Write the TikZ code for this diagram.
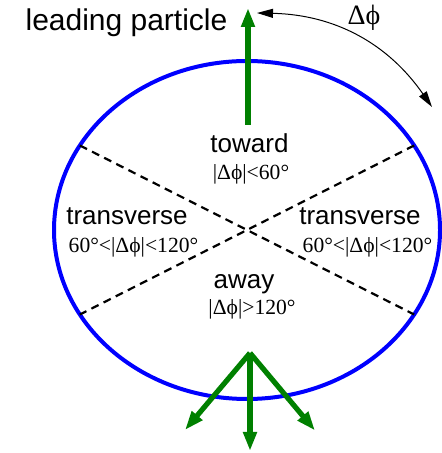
\documentclass[tikz,border=0pt]{standalone}
\usepackage{fontspec}
\setmainfont{Liberation Serif}
\newfontfamily\arialfont{Liberation Sans}
\usetikzlibrary{arrows.meta, calc}

\begin{document}
\begin{tikzpicture}[
                    x=0.5pt, y=0.5pt,
                    detector/.style={draw=blue, line width=2pt},
                    divider/.style={draw, dash pattern=on 4pt off 2.8pt, line width=1.1pt},
                    track/.style={draw=green!50!black, line width=2.6pt, -{Triangle[length=9.5pt, width=6.5pt, fill=green!50!black]}},
                    swing/.style={draw, line width=0.5pt, {Triangle[length=8pt, width=4.5pt]}-{Triangle[length=8pt, width=4.5pt]}},
                    sector/.style={anchor=base, inner sep=0pt, font=\arialfont\fontsize{13}{15}\selectfont},
                    spanlbl/.style={anchor=base, inner sep=0pt, font=\fontsize{10.8}{13}\selectfont}
                ]
                    \useasboundingbox (0,0) rectangle (442,453);
                    \coordinate (c) at (247,223);
                    
                    % detector and sector borders
                    \draw [detector] (c) ellipse [x radius=96.5pt, y radius=84.5pt];
                    \coordinate (ne) at ($(c)+(30:96.5pt and 84.5pt)$);
                    \coordinate (nw) at ($(c)+(150:96.5pt and 84.5pt)$);
                    \coordinate (sw) at ($(c)+(210:96.5pt and 84.5pt)$);
                    \coordinate (se) at ($(c)+(330:96.5pt and 84.5pt)$);
                    \path [divider] (nw) -- (se);
                    \path [divider] (ne) -- (sw);
                    
                    % leading particle
                    \coordinate (lead) at (248,328);
                    \coordinate (leadtip) at (248,445);
                    \path [track] (lead) -- (leadtip);
                    \node [anchor=base, inner sep=0pt, font=\arialfont\fontsize{15}{18}\selectfont] (leadlbl) at (126.5,422) {leading particle};
                    
                    % away side tracks
                    \coordinate (away) at (250,100);
                    \coordinate (awayl) at (185,23);
                    \coordinate (awayc) at (250,2);
                    \coordinate (awayr) at (315,22.5);
                    \path [track] (away) -- (awayl);
                    \path [track] (away) -- (awayc);
                    \path [track] (away) -- (awayr);
                    
                    % angle
                    \coordinate (phia) at (257,440);
                    \coordinate (phib) at (432,346);
                    \path [swing] (phia) to [bend left=27] (phib);
                    \node [anchor=base, inner sep=0pt, font=\fontsize{14}{16}\selectfont] (phi) at (364,428) {Δϕ};
                    
                    % regions
                    \node [sector] (toward) at (249.5,300.7) {toward};
                    \node [spanlbl] (towardrng) at (251,273) {|Δϕ|<60°};
                    \node [sector] (transl) at (127,228) {transverse};
                    \node [spanlbl] (translrng) at (133.5,200.3) {60°<|Δϕ|<120°};
                    \node [sector] (transr) at (360,228) {transverse};
                    \node [spanlbl] (transrrng) at (367.5,200.3) {60°<|Δϕ|<120°};
                    \node [sector] (awaylbl) at (244,164.7) {away};
                    \node [spanlbl] (awayrng) at (252,138) {|Δϕ|>120°};
                \end{tikzpicture}
\end{document}
